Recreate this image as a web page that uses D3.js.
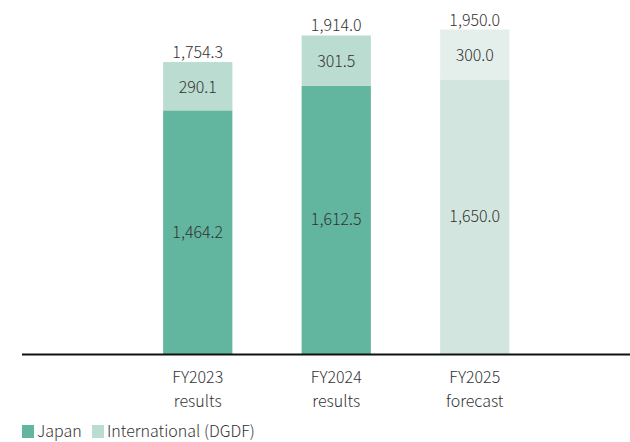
<!DOCTYPE html>
<html><head><meta charset="utf-8">
<script src="https://cdn.jsdelivr.net/npm/d3@7"></script>
<style>
body{margin:0;background:#fff;}
text{font-family:"Noto Sans CJK JP","Noto Sans",sans-serif;font-weight:300;fill:#333;}
</style></head><body>
<svg id="c" width="630" height="442"></svg>
<script>
const categories = ["FY2023|results","FY2024|results","FY2025|forecast"];
const japan = [1464.2, 1612.5, 1650.0];
const international = [290.1, 301.5, 300.0];
const totals = [1754.3, 1914.0, 1950.0];
const forecast = [false, false, true];
const seriesNames = ["Japan","International (DGDF)"];

const svg = d3.select("#c");
const baseY = 354;
const fs = 16;
const x = d3.scaleBand().domain(categories).range([128.5, 544]).paddingInner(0.5).paddingOuter(0.25);
const y = d3.scaleLinear().domain([0, 1950]).range([baseY, baseY - 324.5]);
const fmt = d3.format(",.1f");
const colJ = ["#62b59f","#62b59f","#d2e6df"];
const colI = ["#bbdcd0","#bbdcd0","#e4efeb"];

const g = svg.append("g");
categories.forEach((c,i)=>{
  const bx = x(c), bw = x.bandwidth();
  g.append("rect").attr("x",bx).attr("width",bw).attr("y",y(japan[i])).attr("height",y(0)-y(japan[i])).attr("fill",colJ[i]);
  g.append("rect").attr("x",bx).attr("width",bw).attr("y",y(japan[i]+international[i])).attr("height",y(japan[i])-y(japan[i]+international[i])).attr("fill",colI[i]);
  const cx = bx+bw/2;
  g.append("text").attr("x",cx).attr("y",(y(0)+y(japan[i]))/2).attr("dy","0.35em").attr("text-anchor","middle").attr("font-size",fs).text(fmt(japan[i]));
  g.append("text").attr("x",cx).attr("y",(y(japan[i])+y(japan[i]+international[i]))/2+1).attr("dy","0.35em").attr("text-anchor","middle").attr("font-size",fs).text(fmt(international[i]));
  g.append("text").attr("x",cx).attr("y",y(totals[i])-4).attr("text-anchor","middle").attr("font-size",fs).text(fmt(totals[i]));
  const parts = c.split("|");
  parts.forEach((p,k)=>{
    g.append("text").attr("x",cx).attr("y",383+k*24).attr("text-anchor","middle").attr("font-size",fs).text(p);
  });
});

svg.append("line").attr("x1",22).attr("x2",630).attr("y1",baseY+0.5).attr("y2",baseY+0.5).attr("stroke","#111").attr("stroke-width",2);

const legend = [{name:seriesNames[0],c:"#62b59f",x:22},{name:seriesNames[1],c:"#bbdcd0",x:92}];
legend.forEach(l=>{
  svg.append("rect").attr("x",l.x).attr("y",425).attr("width",12).attr("height",13).attr("fill",l.c);
  svg.append("text").attr("x",l.x+15).attr("y",437).attr("font-size",fs).text(l.name);
});
</script></body></html>
